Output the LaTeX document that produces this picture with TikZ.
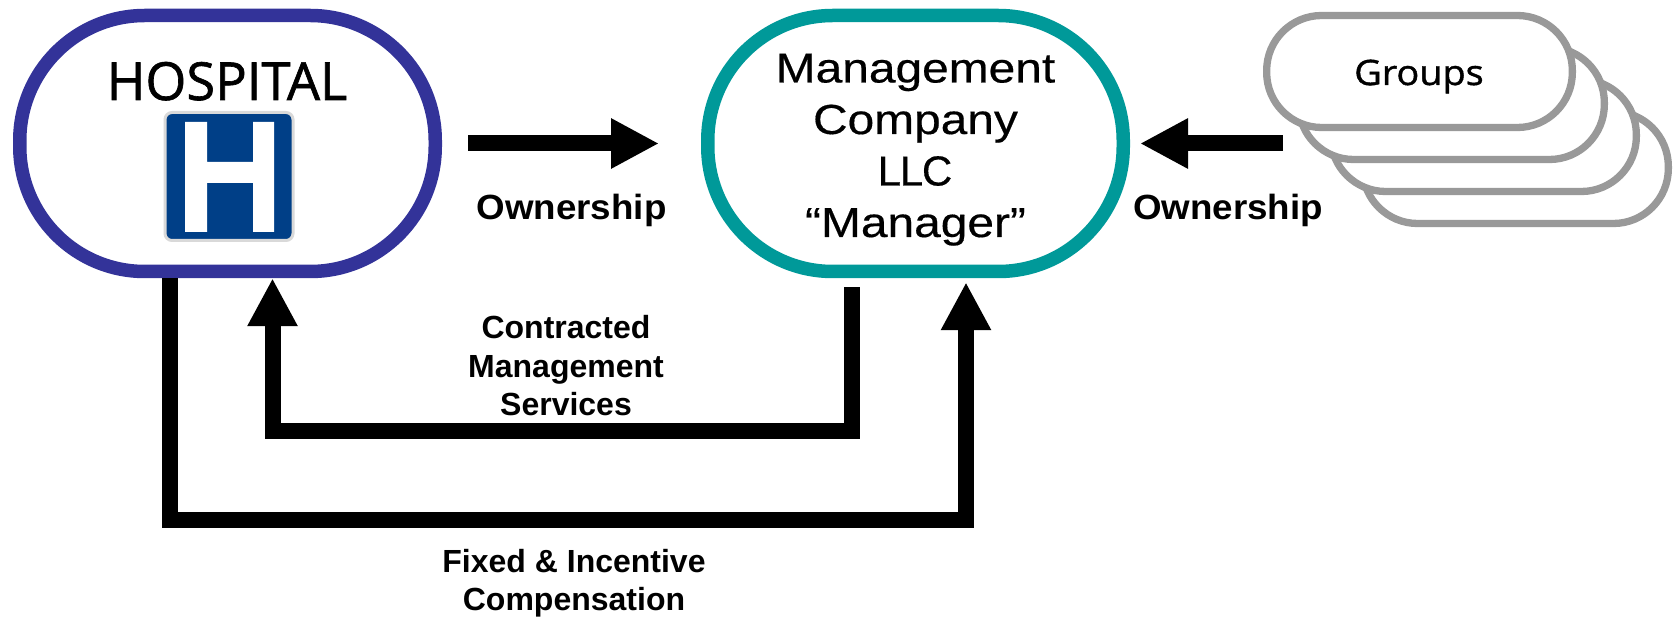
\documentclass[tikz,border=0pt]{standalone}
\usepackage{fontspec}
\setmainfont{Open Sans}
\newfontfamily\labelfont{Liberation Sans}[BoldFont={Liberation Sans Bold}]
\newfontfamily\ownfont{Liberation Sans Bold}[FakeStretch=1.05]
\newfontfamily\titlefont{Liberation Sans}[FakeStretch=1.14,FakeBold=0.4]
\newfontfamily\llcfont{Liberation Sans}[LetterSpace=-3,FakeBold=0.4]
\newfontfamily\heavyfont{Open Sans}[FakeBold=1.2]
\newfontfamily\groupfont{Open Sans}[FakeBold=1.2,FakeStretch=1.08]
\usetikzlibrary{arrows.meta}
\definecolor{hospblue}{HTML}{333399}
\definecolor{mgrteal}{HTML}{009999}
\definecolor{grpgrey}{HTML}{999999}
\definecolor{signblue}{HTML}{003F87}
\definecolor{signedge}{HTML}{D9D9D9}
\tikzset{
  x=1pt,y=-1pt,
  pill/.style={draw,fill=white,line width=13.5pt,rounded corners=125pt,inner sep=0pt,minimum width=415.5pt,minimum height=256pt},
  grouppill/.style={draw=grpgrey,fill=white,line width=7.3pt,rounded corners=55pt,inner sep=0pt,minimum width=305.7pt,minimum height=112pt},
  flow/.style={line width=16pt,line join=miter,-{Triangle[length=48pt,width=47pt]}},
  lab/.style={font=\labelfont\bfseries\fontsize{32}{38.5}\selectfont,align=center,inner sep=0pt},
  biglab/.style={anchor=base,font=\ownfont\fontsize{35}{40}\selectfont,inner sep=0pt},
  title/.style={anchor=base,font=\titlefont\fontsize{42}{52}\selectfont,inner sep=0pt},
}
\begin{document}
\begin{tikzpicture}
\useasboundingbox (0,0) rectangle (1679,617);
\node[pill,draw=hospblue] (hospital) at (227.5,143.5) {};
\node[pill,draw=mgrteal] (manager) at (915.5,143.5) {};
% groups, back to front
\node[grouppill] (g4) at (1515.5,167.5) {};
\node[grouppill] (g3) at (1483.5,135.5) {};
\node[grouppill] (g2) at (1451.5,103.5) {};
\node[grouppill] (g1) at (1419.5,71.5) {};
\node[anchor=base,inner sep=0pt,font=\groupfont\fontsize{35}{40}\selectfont] (groupstext) at (1419,85) {Groups};
% hospital title and sign
\node[anchor=base,inner sep=0pt,font=\heavyfont\fontsize{52.5}{60}\selectfont] (hosptext) at (227,100) {HOSPITAL};
\node[draw=signedge,fill=signblue,line width=3pt,rounded corners=7pt,minimum width=128pt,minimum height=128pt,inner sep=0pt] (sign) at (229,176.5) {};
\fill[white] (185,122) -- (207,122) -- (207,162) -- (253,162) -- (253,122) -- (274,122) -- (274,232) -- (253,232) -- (253,183) -- (207,183) -- (207,232) -- (185,232) -- cycle;
% manager text
\node[title] (mgrtext1) at (915.5,82.5) {Management};
\node[title] (mgrtext2) at (915.5,134) {Company};
\node[title,font=\llcfont\fontsize{42}{52}\selectfont] (mgrtext3) at (915,185.5) {LLC};
\node[title] (mgrtext4) at (915.5,237) {“Manager”};
% free ends
\coordinate (grouptail) at (1283,143.5);
\coordinate (bendA) at (560,431.5);
\coordinate (bendB) at (560,520);
% connectors
\draw[flow,shorten <=26pt,shorten >=42pt] (hospital.east) -- (manager.west);
\draw[flow,shorten >=10pt] (grouptail) -- (manager.east);
\draw[flow,shorten <=9pt] ([xshift=-63.5pt]manager.south) |- (bendA) -| ([xshift=45pt]hospital.south);
\draw[flow,shorten >=4pt] ([xshift=-57.5pt]hospital.south) |- (bendB) -| ([xshift=50.5pt]manager.south);
% labels
\node[biglab] (own1) at (571.5,220) {Ownership};
\node[biglab] (own2) at (1228,220) {Ownership};
\node[lab] (contract) at (566,366) {Contracted\\Management\\Services};
\node[lab] (comp) at (574,583) {Fixed \& Incentive\\Compensation};
\end{tikzpicture}
\end{document}
